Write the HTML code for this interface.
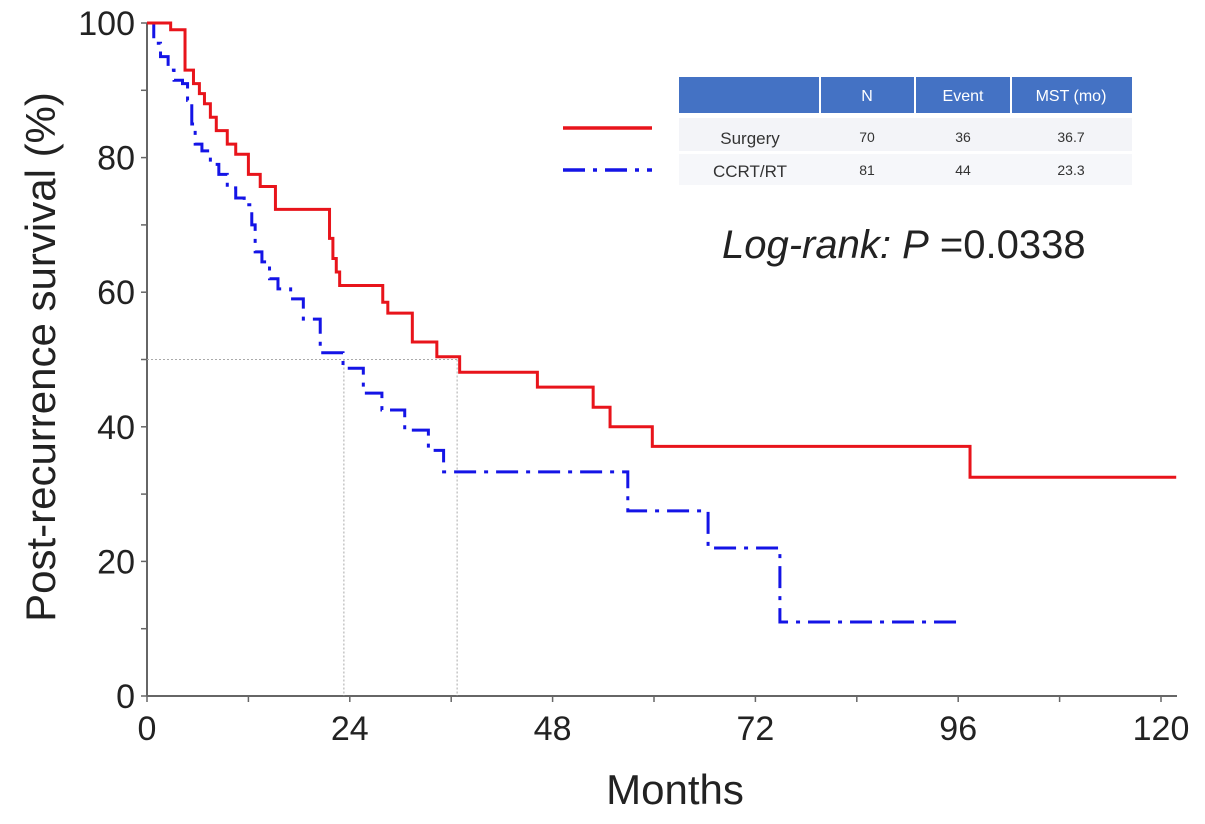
<!DOCTYPE html>
<html><head><meta charset="utf-8"><style>
body{margin:0;background:#fff;}
svg{display:block;font-family:"Liberation Sans",Arial,sans-serif;}
</style></head><body>
<svg id="chart" width="1205" height="824" viewBox="0 0 1205 824" xmlns="http://www.w3.org/2000/svg">
<g id="axes"></g>
<g id="marks"></g>
<text transform="translate(55,357) rotate(-90)" text-anchor="middle" font-size="42" fill="#222">Post-recurrence survival (%)</text>
<text x="675" y="804" text-anchor="middle" font-size="42" fill="#222">Months</text>
<g>
<line x1="563" y1="128" x2="652" y2="128" stroke="#e8141b" stroke-width="3.5"/>
<line x1="563" y1="170" x2="652" y2="170" stroke="#1414e6" stroke-width="3.5" stroke-dasharray="22,8,4,8"/>
<rect x="679" y="77" width="453" height="36" fill="#4472c4"/>
<line x1="820" y1="77" x2="820" y2="113" stroke="#fff" stroke-width="2"/>
<line x1="915" y1="77" x2="915" y2="113" stroke="#fff" stroke-width="2"/>
<line x1="1011" y1="77" x2="1011" y2="113" stroke="#fff" stroke-width="2"/>
<rect x="679" y="118" width="453" height="33" fill="#f3f4f8"/>
<rect x="679" y="154" width="453" height="31" fill="#f6f7fa"/>
<g font-size="16" fill="#fff" text-anchor="middle">
<text x="867" y="101">N</text><text x="963" y="101">Event</text><text x="1071" y="101">MST (mo)</text></g>
<g font-size="17" fill="#333" text-anchor="middle">
<text x="750" y="144">Surgery</text><text x="867" y="142" font-size="14">70</text><text x="963" y="142" font-size="14">36</text><text x="1071" y="142" font-size="14">36.7</text>
<text x="750" y="177">CCRT/RT</text><text x="867" y="175" font-size="14">81</text><text x="963" y="175" font-size="14">44</text><text x="1071" y="175" font-size="14">23.3</text></g>
</g>
<text x="722" y="258" font-size="40" fill="#222"><tspan font-style="italic">Log-rank: P</tspan> =0.0338</text>
</svg>
<script>
const xTicks=[0,24,48,72,96,120];
const yTicks=[0,20,40,60,80,100];
const surgeryT=[0,2.8,4.5,5.5,6.2,6.8,7.5,8.2,9.5,10.5,12,13.4,15.2,21.6,22.0,22.4,22.8,27.9,28.5,31.4,34.3,37,46.2,52.8,54.8,59.8,97.4,121.8];
const surgeryS=[100,99,93,91,89.5,88,86,84,82,80.5,77.5,75.7,72.3,68,65,63,61,58.5,56.9,52.6,50.4,48.1,45.9,42.9,40,37.1,32.5,32.5];
const ccrtT=[0,0.8,1.6,2.5,3.2,4.2,4.8,5.3,5.7,6.5,7.5,8.5,9.5,10.5,11.5,12.4,12.8,13.6,14.5,15.5,17,18.5,20.5,23.2,25.6,27.8,30.5,33.3,35.1,56.9,66.4,74.9,96.4];
const ccrtS=[100,97,95,93,91.5,91,88.5,85,82,81,79,77.5,75.5,74,73,70,66,64.5,62,60.5,59,56,51,48.7,45,42.5,39.5,36.5,33.3,27.5,22,11,11];
const medians=[23.3,36.7];
const X0=147,PXM=8.45,Y0=696,PXP=6.73,XEND=1177;
const sx=m=>X0+m*PXM, sy=p=>Y0-p*PXP;
const NS='http://www.w3.org/2000/svg';
const ax=document.getElementById('axes'), mk=document.getElementById('marks');
function el(t,a,p){const e=document.createElementNS(NS,t);for(const k in a)e.setAttribute(k,a[k]);p.appendChild(e);return e;}
let l=el('line',{x1:X0,y1:sy(100),x2:X0,y2:Y0,stroke:'#666','stroke-width':2},ax);


l=el('line',{x1:X0,y1:Y0,x2:XEND,y2:Y0,stroke:'#666','stroke-width':2},ax);


for(let m=0;m<=120;m+=12){el('line',{x1:sx(m),y1:Y0,x2:sx(m),y2:Y0+6,stroke:'#666','stroke-width':1.5},ax);}
for(let p=0;p<=100;p+=10){el('line',{x1:X0-6,y1:sy(p),x2:X0,y2:sy(p),stroke:'#666','stroke-width':1.5},ax);}
xTicks.forEach(v=>{const t=el('text',{x:sx(v),y:Y0+44,'text-anchor':'middle','font-size':34,fill:'#222'},ax);t.textContent=v;

});
yTicks.forEach(v=>{const t=el('text',{x:X0-12,y:sy(v)+12,'text-anchor':'end','font-size':34,fill:'#222'},ax);t.textContent=v;

});
let g=el('path',{d:`M${X0},${sy(50)}H${sx(medians[1])}`,stroke:'#aaa','stroke-width':1,'stroke-dasharray':'2,2',fill:'none'},mk);


medians.forEach(m=>{const v=el('path',{d:`M${sx(m)},${sy(50)}V${Y0}`,stroke:'#aaa','stroke-width':1,'stroke-dasharray':'2,2',fill:'none'},mk);

});
function step(T,S){let d=`M${sx(T[0])},${sy(S[0])}`;for(let i=1;i<T.length;i++){d+=`H${sx(T[i])}V${sy(S[i])}`;}return d;}
let c=el('path',{d:step(ccrtT,ccrtS),stroke:'#1414e6','stroke-width':3,fill:'none','stroke-dasharray':'22,8,4,8'},mk);


c=el('path',{d:step(surgeryT,surgeryS),stroke:'#e8141b','stroke-width':3,fill:'none'},mk);


</script>
</body></html>
